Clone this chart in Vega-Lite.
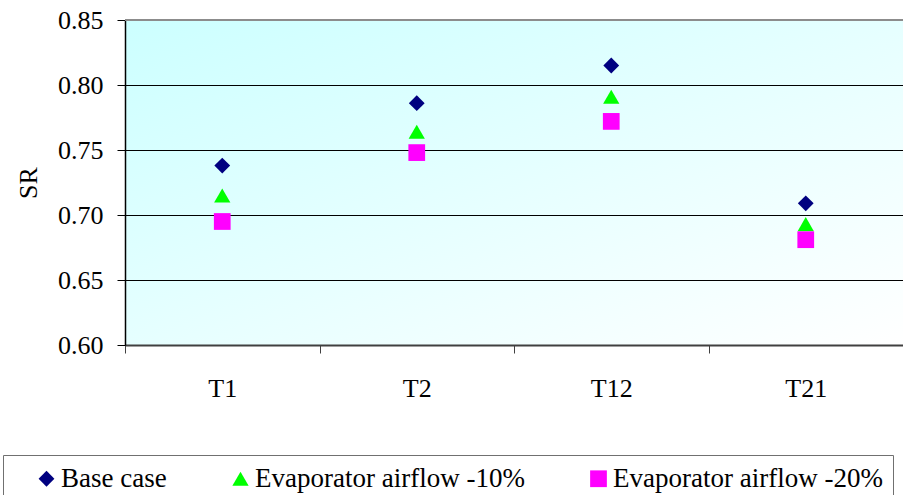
{
  "$schema": "https://vega.github.io/schema/vega-lite/v6.json",
  "width": 778,
  "height": 325,
  "autosize": {"type": "none"},
  "padding": {"left": 125, "top": 20, "right": 0, "bottom": 150},
  "background": "white",
  "config": {
    "font": "Times New Roman, Liberation Serif, DejaVu Serif, serif",
    "view": {
      "stroke": null,
      "fill": {
        "gradient": "linear",
        "x1": 0, "y1": 0, "x2": 1, "y2": 1,
        "stops": [
          {"offset": 0, "color": "#ccffff"},
          {"offset": 1, "color": "#ffffff"}
        ]
      }
    }
  },
  "data": {
    "values": [
      {"test": "T1", "series": "Base case", "sr": 0.738},
      {"test": "T1", "series": "Evaporator airflow -10%", "sr": 0.715},
      {"test": "T1", "series": "Evaporator airflow -20%", "sr": 0.695},
      {"test": "T2", "series": "Base case", "sr": 0.786},
      {"test": "T2", "series": "Evaporator airflow -10%", "sr": 0.764},
      {"test": "T2", "series": "Evaporator airflow -20%", "sr": 0.748},
      {"test": "T12", "series": "Base case", "sr": 0.815},
      {"test": "T12", "series": "Evaporator airflow -10%", "sr": 0.791},
      {"test": "T12", "series": "Evaporator airflow -20%", "sr": 0.772},
      {"test": "T21", "series": "Base case", "sr": 0.709},
      {"test": "T21", "series": "Evaporator airflow -10%", "sr": 0.693},
      {"test": "T21", "series": "Evaporator airflow -20%", "sr": 0.681}
    ]
  },
  "layer": [
    {
      "mark": {"type": "point", "filled": true, "opacity": 1, "strokeWidth": 0},
      "encoding": {
        "x": {
          "field": "test",
          "type": "nominal",
          "sort": ["T1", "T2", "T12", "T21"],
          "scale": {"paddingInner": 0, "paddingOuter": 0},
          "axis": {
            "title": null,
            "labelAngle": 0,
            "tickBand": "extent",
            "grid": false,
            "domainColor": "#404040",
            "domainWidth": 2,
            "tickColor": "#404040",
            "tickWidth": 1,
            "tickSize": 8,
            "labelFont": "Times New Roman, Liberation Serif, DejaVu Serif, serif",
            "labelFontSize": 26,
            "labelColor": "black",
            "labelPadding": 22
          }
        },
        "y": {
          "field": "sr",
          "type": "quantitative",
          "scale": {"domain": [0.6, 0.85], "nice": false, "zero": false},
          "axis": {
            "title": "SR",
            "values": [0.6, 0.65, 0.7, 0.75, 0.8, 0.85],
            "format": ".2f",
            "grid": true,
            "gridColor": "black",
            "gridWidth": 1,
            "domainColor": "black",
            "domainWidth": 1.5,
            "tickColor": "black",
            "tickSize": 8,
            "labelFont": "Times New Roman, Liberation Serif, DejaVu Serif, serif",
            "labelFontSize": 26,
            "labelColor": "black",
            "labelPadding": 14,
            "titleFont": "Times New Roman, Liberation Serif, DejaVu Serif, serif",
            "titleFontSize": 26,
            "titleFontWeight": "normal",
            "titleColor": "black",
            "titlePadding": 16
          }
        },
        "shape": {
          "field": "series",
          "type": "nominal",
          "scale": {
            "domain": ["Base case", "Evaporator airflow -10%", "Evaporator airflow -20%"],
            "range": ["diamond", "triangle-up", "square"]
          },
          "legend": {
            "orient": "none",
            "legendX": -122,
            "legendY": 435,
            "direction": "horizontal",
            "title": " ",
            "titleOrient": "left",
            "titleFontSize": 10,
            "titlePadding": 20,
            "padding": 10,
            "strokeColor": "#707070",
            "fillColor": "white",
            "columnPadding": 60,
            "labelOffset": 1,
            "labelFont": "Times New Roman, Liberation Serif, DejaVu Serif, serif",
            "labelFontSize": 27,
            "labelColor": "black",
            "labelLimit": 400,
            "symbolStrokeWidth": 0
          }
        },
        "color": {
          "field": "series",
          "type": "nominal",
          "scale": {
            "domain": ["Base case", "Evaporator airflow -10%", "Evaporator airflow -20%"],
            "range": ["#000080", "#00ff00", "#ff00ff"]
          },
          "legend": {
            "orient": "none",
            "legendX": -122,
            "legendY": 435,
            "direction": "horizontal",
            "title": " ",
            "titleOrient": "left",
            "titleFontSize": 10,
            "titlePadding": 20,
            "padding": 10,
            "strokeColor": "#707070",
            "fillColor": "white",
            "columnPadding": 60,
            "labelOffset": 1,
            "labelFont": "Times New Roman, Liberation Serif, DejaVu Serif, serif",
            "labelFontSize": 27,
            "labelColor": "black",
            "labelLimit": 400,
            "symbolStrokeWidth": 0
          }
        },
        "size": {
          "field": "series",
          "type": "nominal",
          "scale": {
            "domain": ["Base case", "Evaporator airflow -10%", "Evaporator airflow -20%"],
            "range": [250, 280, 180]
          },
          "legend": null
        }
      }
    },
    {
      "mark": {"type": "rule", "color": "#8c8c8c", "strokeWidth": 2},
      "encoding": {"y": {"datum": 0.85}}
    }
  ]
}
